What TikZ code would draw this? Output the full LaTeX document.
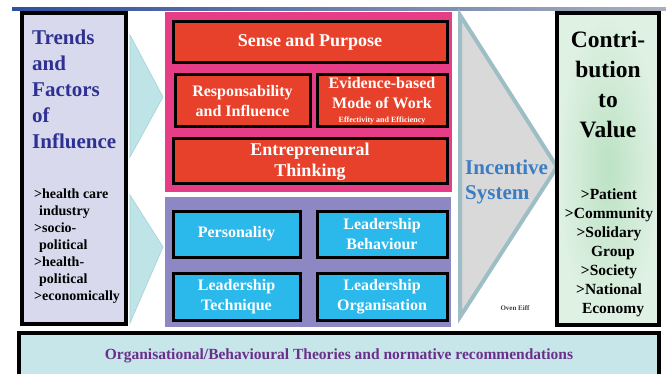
\documentclass[tikz,border=0pt]{standalone}
\usepackage{fontspec}
\setmainfont{Liberation Serif}
\usetikzlibrary{calc}
\definecolor{trendfill}{HTML}{D9D9EE}
\definecolor{trendblue}{HTML}{2E3192}
\definecolor{chevfill}{HTML}{BFE4E7}
\definecolor{chevline}{HTML}{A3D2D7}
\definecolor{pinkfill}{HTML}{E63D86}
\definecolor{violetfill}{HTML}{8D88C4}
\definecolor{redfill}{HTML}{E8412B}
\definecolor{cyanfill}{HTML}{2BB8EB}
\definecolor{incfill}{HTML}{D9D9D9}
\definecolor{incline}{HTML}{9DBEC4}
\definecolor{incblue}{HTML}{3B7DC4}
\definecolor{greenin}{HTML}{BCE2C4}
\definecolor{greenout}{HTML}{DFF1E3}
\definecolor{theofill}{HTML}{C6E6EA}
\definecolor{theopurple}{HTML}{6B2F8A}
\definecolor{topblue}{HTML}{2F4FA0}
\definecolor{topgrey}{HTML}{A9AFBC}
\tikzset{
	redbox/.style={draw=black, line width=3pt, fill=redfill, text=white, align=center, inner sep=0pt, font=\bfseries\fontsize{16}{20}\selectfont},
	cyanbox/.style={draw=black, line width=3pt, fill=cyanfill, text=white, align=center, inner sep=0pt, font=\bfseries\fontsize{16}{20}\selectfont},
	sidebox/.style={draw=black, line width=3.5pt, inner sep=0pt},
	chevron/.style={fill=chevfill, draw=chevline, line width=0.6pt}
}

\begin{document}
\begin{tikzpicture}[x=1pt, y=-1pt]
			%%%%% START %%%%%
			\useasboundingbox (0,0) rectangle (666,374);
			\shade[left color=topblue, right color=topgrey] (12,8) rectangle (666,11);
			
			% left column
			\node[sidebox, fill=trendfill, minimum width=104pt, minimum height=311pt] (trends) at (74,168.5) {};
			\node[anchor=north west, inner sep=0pt, align=left, text=trendblue, font=\bfseries\fontsize{21}{26}\selectfont] (trendshead) at (32,30) {Trends\\and\\Factors\\of\\Influence};
			\node[anchor=north west, inner sep=0pt, align=left, font=\bfseries\fontsize{14}{17}\selectfont] (trendslist) at (34,189) {>health care\\\hspace*{5pt}industry\\>socio-\\\hspace*{5pt}political\\>health-\\\hspace*{5pt}political\\>economically};
			
			\draw[chevron] (130,35) -- (163,97) -- (130,157) -- cycle;
			\draw[chevron] (130,195) -- (163,247) -- (130,323) -- cycle;
			
			% middle blocks
			\node[fill=pinkfill, minimum width=287pt, minimum height=180pt, inner sep=0pt] (drivers) at (308.5,102) {};
			\node[fill=violetfill, minimum width=286pt, minimum height=130pt, inner sep=0pt] (leadership) at (308,262) {};
			
			\node[redbox, minimum width=274pt, minimum height=41pt, font=\bfseries\fontsize{18}{20}\selectfont] (sense) at (310,42.5) {Sense and Purpose};
			\node[redbox, minimum width=135pt, minimum height=52pt] (respons) at (242.5,101) {Responsability\\and Influence};
			\node[redbox, minimum width=130pt, minimum height=52pt] (evidence) at (382,101) {Evidence-based\\Mode of Work\\[-6pt]{\fontsize{8}{9}\selectfont Effectivity and Efficiency}};
			\node[redbox, minimum width=274pt, minimum height=45pt, font=\bfseries\fontsize{18}{21}\selectfont] (entre) at (310,161.5) {Entrepreneural\\Thinking};
			
			\node[cyanbox, minimum width=127pt, minimum height=46pt] (personality) at (236.5,234) {Personality};
			\node[cyanbox, minimum width=130pt, minimum height=46pt] (behaviour) at (382,234) {Leadership\\Behaviour};
			\node[cyanbox, minimum width=127pt, minimum height=47pt] (technique) at (236.5,296.5) {Leadership\\Technique};
			\node[cyanbox, minimum width=130pt, minimum height=47pt] (organisation) at (382,296.5) {Leadership\\Organisation};
			
			% incentive
			\draw[fill=incfill, draw=incline, line width=4pt, line join=miter] (460,15) -- (557,167) -- (460,317) -- cycle;
			\node[anchor=north west, inner sep=0pt, align=left, text=incblue, font=\bfseries\fontsize{21}{25}\selectfont] (incentive) at (465,159.5) {Incentive\\System};
			\node[inner sep=0pt, text=black!75, font=\bfseries\fontsize{7}{8}\selectfont] (oven) at (515,308) {Oven Eiff};
			
			% right column
			\node[sidebox, inner color=greenin, outer color=greenout, minimum width=102pt, minimum height=312pt] (value) at (608,169) {};
			\node[anchor=north, inner sep=0pt, align=center, font=\bfseries\fontsize{23.5}{30}\selectfont] (valuehead) at (608,31) {Contri-\\bution\\to\\Value};
			\node[anchor=north, inner sep=0pt, align=center, font=\bfseries\fontsize{15.5}{19}\selectfont] (valuelist) at (609,189) {>Patient\\>Community\\>Solidary\\\hspace*{8pt}Group\\>Society\\>National\\\hspace*{8pt}Economy};
			
			% bottom
			\node[sidebox, fill=theofill, minimum width=640pt, minimum height=45pt, text=theopurple, font=\bfseries\fontsize{15.5}{18}\selectfont] (theories) at (339,355.5) {Organisational/Behavioural Theories and normative recommendations};
			%%%%% END %%%%%
		\end{tikzpicture}
\end{document}
